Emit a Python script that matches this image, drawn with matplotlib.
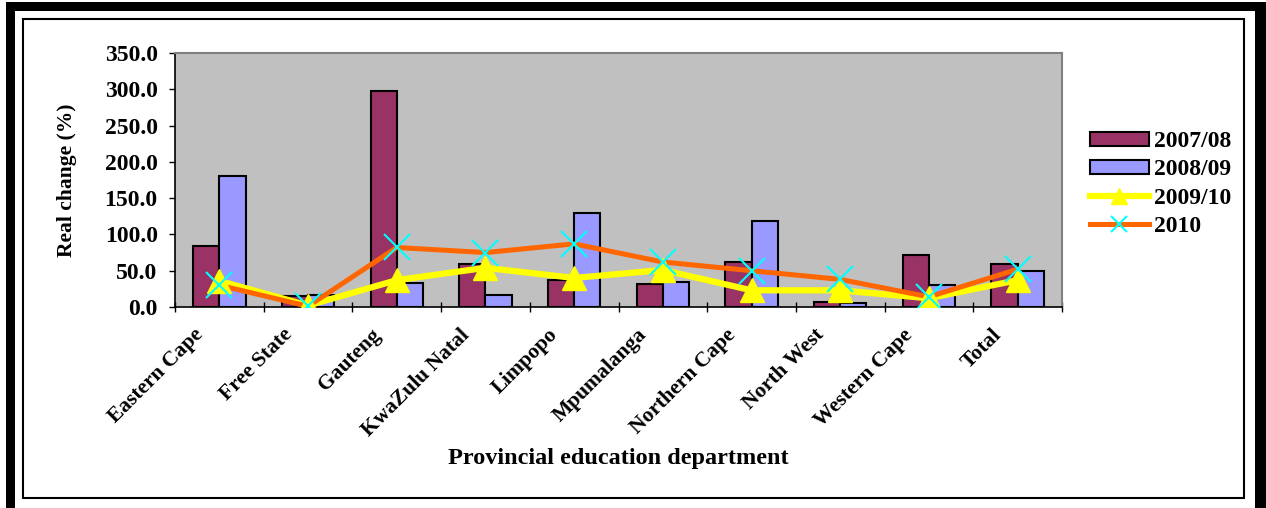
import matplotlib.pyplot as plt
import matplotlib.transforms as mtransforms
from matplotlib.patches import Rectangle
import numpy as np

# data
provinces = ["Eastern Cape", "Free State", "Gauteng", "KwaZulu Natal", "Limpopo",
             "Mpumalanga", "Northern Cape", "North West", "Western Cape", "Total"]
change_0708 = [84, 15, 298, 59, 37, 32, 62, 7, 71, 59]
change_0809 = [181, 17, 33, 17, 130, 35, 118, 5, 30, 50]
change_0910 = [36, 2, 37, 54, 40, 51, 23, 23, 12, 37]
change_2010 = [30, 1, 82, 75, 87, 62, 50, 38, 14, 52]
series_names = ["2007/08", "2008/09", "2009/10", "2010"]

plt.rcParams['font.family'] = ['Liberation Serif', 'DejaVu Serif']
plt.rcParams['font.weight'] = 'bold'

W, H = 1266, 508
fig = plt.figure(figsize=(W / 100, H / 100), dpi=100)

def px_rect(x0, y0, x1, y1, **kw):
    # rectangle in image pixel coords (origin top-left)
    return Rectangle((x0 / W, 1 - y1 / H), (x1 - x0) / W, (y1 - y0) / H,
                     transform=fig.transFigure, **kw)

# thick black page frame and thin inner box
fig.patches.append(px_rect(6, 2, 1266, 11, color='black', lw=0))
fig.patches.append(px_rect(6, 2, 15, 508, color='black', lw=0))
fig.patches.append(px_rect(1255, 2, 1266, 508, color='black', lw=0))
fig.patches.append(px_rect(23, 19, 1244, 498, fill=False, ec='black', lw=1.5))

ax = fig.add_axes([175 / W, 1 - 307 / H, (1062 - 175) / W, (307 - 53) / H])
ax.set_facecolor('#C0C0C0')

x = np.arange(len(provinces))
bw = 0.295
ax.bar(x - bw / 2, change_0708, bw, color='#993366', edgecolor='black', lw=1.5,
       label=series_names[0], zorder=2)
ax.bar(x + bw / 2, change_0809, bw, color='#9999FF', edgecolor='black', lw=1.5,
       label=series_names[1], zorder=2)

ax.plot(x, change_0910, color='#FFFF00', lw=4.5, zorder=3)
ax.plot(x, change_2010, color='#FF6600', lw=3.6, zorder=4)
ax.plot(x, change_0910, ls='none', marker='^', ms=17, color='#FFFF00', zorder=5)
ax.plot(x, change_2010, ls='none', marker='x', ms=19, mew=1.5, color='#00FFFF', zorder=6)

# legend proxies
ax.plot([], [], color='#FFFF00', lw=4.5, marker='^', ms=11, label=series_names[2])
ax.plot([], [], color='#FF6600', lw=3.6, marker='x', ms=12, mew=1.5,
        mec='#00FFFF', label=series_names[3])

ax.set_xlim(-0.5, len(provinces) - 0.5)
ax.set_ylim(0, 350)
ax.set_yticks(np.arange(0, 351, 50))
ax.set_yticklabels([f"{v:.1f}" for v in np.arange(0, 351, 50)], fontsize=17, fontweight='bold')
ax.tick_params(axis='y', direction='out', length=4.5, width=1, pad=8)

ax.set_xticks(x)
ax.set_xticks(np.arange(-0.5, len(provinces), 1), minor=True)
ax.tick_params(axis='x', which='major', length=0, pad=18)
ax.tick_params(axis='x', which='minor', direction='inout', length=7, width=1)
offset = mtransforms.ScaledTranslation(-0.19, 0, fig.dpi_scale_trans)
ax.set_xticklabels(provinces, rotation=45, ha='right', va='center', rotation_mode='anchor',
                   fontsize=15.5, fontweight='bold')
for lab in ax.get_xticklabels():
    lab.set_transform(lab.get_transform() + offset)

for side in ['top', 'right']:
    ax.spines[side].set_color('#808080')
    ax.spines[side].set_linewidth(1.5)
for side in ['left', 'bottom']:
    ax.spines[side].set_color('black')
    ax.spines[side].set_linewidth(1.2)

ax.set_ylabel("Real change (%)", fontsize=15.5, fontweight='bold')
ax.yaxis.set_label_coords(-0.110, 0.5)
ax.set_xlabel("Provincial education department", fontsize=17.5, fontweight='bold', va='top')
ax.xaxis.set_label_coords(0.5, -0.555)

handles, labels = ax.get_legend_handles_labels()
hmap = dict(zip(labels, handles))
leg = fig.legend([hmap[n] for n in series_names], series_names,
                 loc='center left', bbox_to_anchor=(1078 / W, 1 - 184 / H),
                 frameon=False, fontsize=17, handlelength=2.5, handleheight=0.5,
                 handletextpad=0.2, labelspacing=0.3, numpoints=1, borderpad=0)
for t in leg.get_texts():
    t.set_fontweight('bold')

fig.savefig("out.png", dpi=100)
